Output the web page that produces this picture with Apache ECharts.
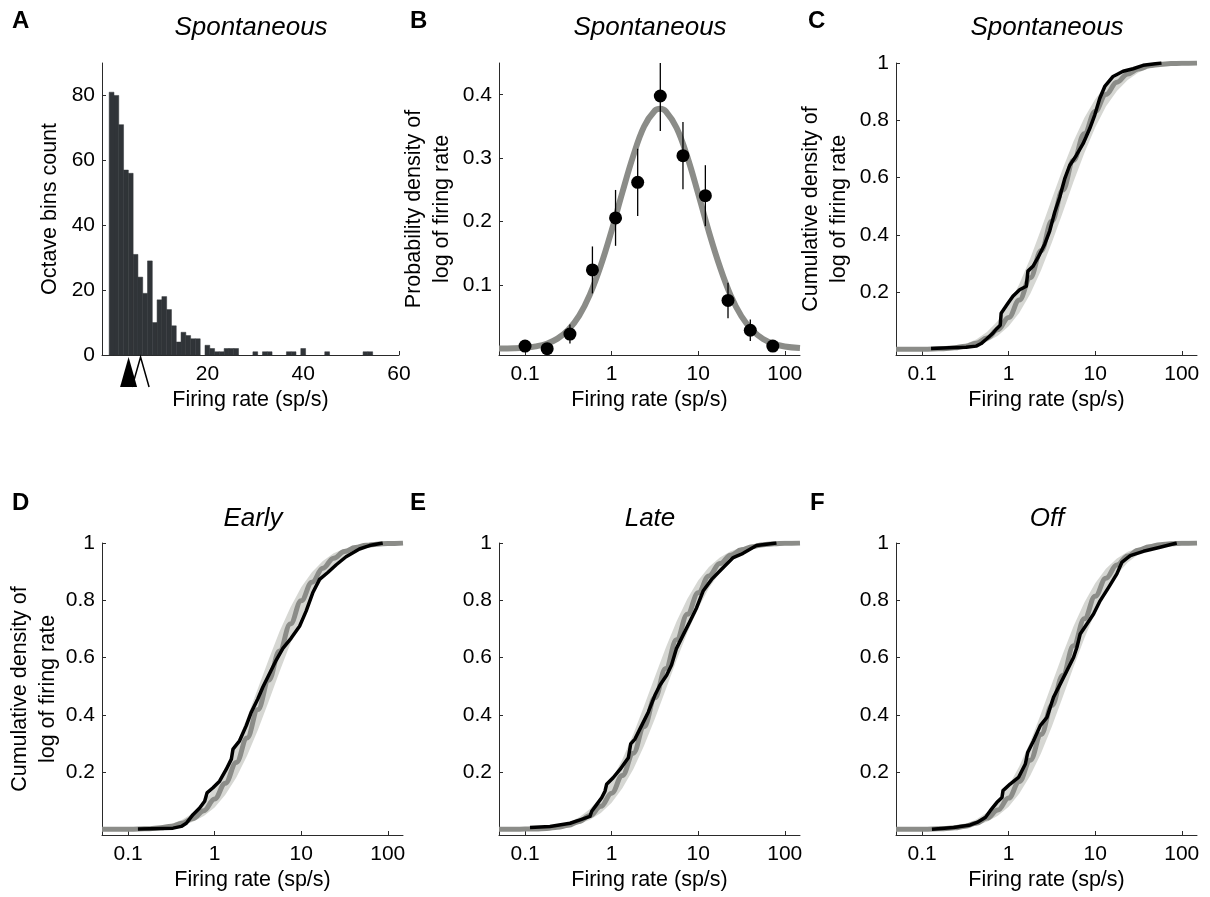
<!DOCTYPE html>
<html>
<head>
<meta charset="utf-8">
<script src="https://cdn.jsdelivr.net/npm/echarts@6/dist/echarts.min.js"></script>
<style>
  html, body { margin: 0; padding: 0; background: #fff; }
  #chart { width: 1210px; height: 897px; }
</style>
</head>
<body>
<div id="chart"></div>
<script>
// ---- A: histogram of spontaneous firing rates (1 sp/s bins, centred on integers)
const histCounts = [81, 80, 71, 57, 56, 31, 24, 19, 29, 10,
                    17, 18, 14, 9, 4, 7, 6, 5, 5, 0,
                    3, 2, 1, 1, 2, 2, 2, 0, 0, 0,
                    1, 0, 1, 1, 0, 0, 0, 1, 1, 0,
                    2, 0, 0, 0, 0, 1, 0, 0, 0, 0,
                    0, 0, 0, 1, 1];
const medianRate = 3.55;   // filled marker
const meanRate = 6.05;     // open marker
const histXTicks = [20, 40, 60];
const histYTicks = [0, 20, 40, 60, 80];

// ---- B: density of log firing rate, binned points with error bars and fitted curve
const densityRates  = [0.1, 0.18, 0.33, 0.6, 1.11, 2.0, 3.65, 6.67, 12.1, 22.1, 40, 72.8];
const densityValues = [0.004, 0.0, 0.023, 0.124, 0.206, 0.262, 0.398, 0.304, 0.241, 0.076, 0.029, 0.004];
const densityErrors = [0.004, 0.0, 0.015, 0.037, 0.044, 0.053, 0.055, 0.053, 0.048, 0.028, 0.017, 0.004];

const densityFitRates = [0.05, 0.075, 0.1, 0.133, 0.178, 0.237, 0.316, 0.422, 0.562, 0.75,
                         1, 1.33, 1.78, 2.37, 3.16, 3.65, 4.22, 5.62, 7.5, 10, 13.3,
                         17.8, 23.7, 31.6, 42.2, 56.2, 75, 100, 150];
const densityFit = [0.0002, 0.0006, 0.0015, 0.0036, 0.0078, 0.0158, 0.0297, 0.052, 0.0856, 0.131,
                    0.186, 0.246, 0.304, 0.35, 0.375, 0.378, 0.374, 0.348, 0.302, 0.244, 0.184,
                    0.129, 0.084, 0.051, 0.029, 0.0153, 0.0075, 0.0035, 0.001];

// ---- C-F: cumulative densities (fit, fit band, empirical)
const fitRates = [0.05, 0.075, 0.1, 0.133, 0.178, 0.237, 0.316, 0.422, 0.562, 0.75,
                  1, 1.33, 1.78, 2.37, 3.16, 4.22, 5.62, 7.5, 10, 13.3,
                  17.8, 23.7, 31.6, 42.2, 56.2, 75, 100, 150];

const cdfFitSpont = [0, 0, 0, 0.001, 0.002, 0.005, 0.011, 0.021, 0.039, 0.068, 0.111, 0.172, 0.25, 0.344, 0.448, 0.556, 0.66, 0.753, 0.831, 0.89, 0.933, 0.962, 0.979, 0.99, 0.995, 0.998, 0.999, 1];
const cdfHiSpont  = [0, 0, 0.001, 0.002, 0.004, 0.009, 0.018, 0.034, 0.06, 0.099, 0.155, 0.228, 0.318, 0.419, 0.526, 0.631, 0.727, 0.809, 0.873, 0.921, 0.954, 0.974, 0.987, 0.994, 0.997, 0.999, 1, 1];
const cdfLoSpont  = [0, 0, 0, 0, 0.001, 0.003, 0.007, 0.014, 0.026, 0.047, 0.08, 0.128, 0.194, 0.276, 0.373, 0.478, 0.585, 0.686, 0.775, 0.848, 0.902, 0.941, 0.967, 0.982, 0.991, 0.996, 0.998, 1];
const ecdfSpontRates  = [0.127, 0.207, 0.323, 0.422, 0.482, 0.551, 0.658, 0.718, 0.8, 0.82, 0.982, 1.12, 1.34, 1.6, 1.67, 1.91, 2.18, 2.61, 2.98, 3.4, 3.89, 4.44, 5.07, 6.05, 7.24, 8.65, 9.88, 11.3, 12.9, 16.1, 21, 27.4, 35.8, 58.3];
const ecdfSpontValues = [0.003, 0.005, 0.007, 0.011, 0.02, 0.035, 0.056, 0.07, 0.084, 0.126, 0.161, 0.185, 0.208, 0.22, 0.273, 0.29, 0.32, 0.367, 0.413, 0.478, 0.531, 0.595, 0.642, 0.677, 0.718, 0.771, 0.818, 0.877, 0.918, 0.953, 0.971, 0.98, 0.992, 1.0];

const cdfFitEarly = [0, 0, 0, 0.001, 0.002, 0.005, 0.011, 0.021, 0.038, 0.065, 0.106, 0.161, 0.233, 0.319, 0.418, 0.521, 0.623, 0.717, 0.798, 0.863, 0.912, 0.947, 0.97, 0.984, 0.992, 0.996, 0.998, 1];
const cdfHiEarly  = [0, 0, 0.001, 0.002, 0.004, 0.009, 0.018, 0.033, 0.057, 0.095, 0.146, 0.213, 0.295, 0.39, 0.492, 0.594, 0.691, 0.775, 0.845, 0.898, 0.937, 0.964, 0.98, 0.99, 0.995, 0.997, 0.999, 1];
const cdfLoEarly  = [0, 0, 0, 0, 0.001, 0.003, 0.007, 0.014, 0.026, 0.046, 0.076, 0.121, 0.181, 0.257, 0.347, 0.447, 0.55, 0.649, 0.74, 0.816, 0.877, 0.922, 0.953, 0.974, 0.986, 0.993, 0.997, 0.999];
const ecdfEarlyRates  = [0.13, 0.331, 0.412, 0.471, 0.562, 0.671, 0.767, 0.8, 0.817, 0.957, 1.14, 1.36, 1.56, 1.63, 1.94, 2.32, 2.65, 3.16, 3.61, 4.12, 5.15, 6.14, 7.67, 9.57, 11.4, 13.6, 16.3, 20.3, 25.4, 33, 47.1, 61.4, 87.5];
const ecdfEarlyValues = [0.001, 0.004, 0.01, 0.021, 0.051, 0.074, 0.098, 0.1, 0.127, 0.145, 0.168, 0.209, 0.245, 0.28, 0.309, 0.362, 0.409, 0.456, 0.497, 0.532, 0.591, 0.632, 0.668, 0.709, 0.762, 0.826, 0.873, 0.897, 0.924, 0.952, 0.979, 0.991, 1.0];

const cdfFitLate = [0, 0, 0.001, 0.001, 0.003, 0.007, 0.014, 0.027, 0.048, 0.08, 0.126, 0.188, 0.266, 0.358, 0.459, 0.562, 0.662, 0.751, 0.826, 0.885, 0.928, 0.957, 0.976, 0.987, 0.994, 0.997, 0.999, 1];
const cdfHiLate  = [0, 0.001, 0.001, 0.002, 0.006, 0.012, 0.023, 0.042, 0.071, 0.113, 0.171, 0.244, 0.332, 0.431, 0.533, 0.634, 0.726, 0.805, 0.869, 0.916, 0.949, 0.971, 0.984, 0.992, 0.996, 0.998, 1, 1];
const cdfLoLate  = [0, 0, 0, 0.001, 0.002, 0.004, 0.009, 0.018, 0.033, 0.057, 0.093, 0.143, 0.21, 0.292, 0.386, 0.488, 0.59, 0.687, 0.772, 0.843, 0.897, 0.936, 0.962, 0.979, 0.989, 0.995, 0.998, 0.999];
const ecdfLateRates  = [0.114, 0.194, 0.331, 0.432, 0.562, 0.589, 0.671, 0.767, 0.838, 0.875, 1.04, 1.25, 1.56, 1.66, 1.86, 2.22, 2.65, 3.16, 3.61, 4.32, 4.92, 5.62, 6.71, 8.02, 9.57, 11.4, 14.3, 18.6, 25.4, 33, 47.1, 80.2];
const ecdfLateValues = [0.006, 0.01, 0.021, 0.033, 0.045, 0.063, 0.086, 0.11, 0.133, 0.157, 0.18, 0.209, 0.25, 0.298, 0.315, 0.362, 0.409, 0.468, 0.503, 0.538, 0.574, 0.632, 0.679, 0.726, 0.773, 0.832, 0.873, 0.908, 0.949, 0.964, 0.991, 1.0];

const cdfFitOff = [0, 0, 0, 0.001, 0.002, 0.005, 0.011, 0.021, 0.039, 0.067, 0.109, 0.167, 0.241, 0.331, 0.432, 0.538, 0.641, 0.735, 0.814, 0.877, 0.923, 0.955, 0.975, 0.987, 0.994, 0.997, 0.999, 1];
const cdfHiOff  = [0, 0, 0.001, 0.002, 0.004, 0.009, 0.018, 0.034, 0.059, 0.097, 0.151, 0.22, 0.306, 0.404, 0.508, 0.612, 0.709, 0.792, 0.859, 0.91, 0.946, 0.969, 0.984, 0.992, 0.996, 0.998, 1, 1];
const cdfLoOff  = [0, 0, 0, 0, 0.001, 0.003, 0.007, 0.014, 0.026, 0.047, 0.079, 0.125, 0.188, 0.266, 0.359, 0.462, 0.567, 0.667, 0.757, 0.832, 0.89, 0.932, 0.961, 0.978, 0.989, 0.995, 0.998, 1];
const ecdfOffRates  = [0.13, 0.232, 0.361, 0.432, 0.538, 0.614, 0.733, 0.838, 0.861, 1.04, 1.3, 1.56, 1.66, 1.94, 2.32, 2.77, 3.3, 3.94, 4.71, 5.62, 6.14, 6.71, 8.02, 9.57, 11.4, 14.3, 17.8, 20.3, 25.4, 36.1, 56.2, 87.5];
const ecdfOffValues = [0.0, 0.006, 0.015, 0.024, 0.041, 0.065, 0.094, 0.111, 0.135, 0.158, 0.181, 0.228, 0.268, 0.309, 0.362, 0.391, 0.461, 0.507, 0.554, 0.6, 0.635, 0.682, 0.717, 0.752, 0.798, 0.845, 0.892, 0.932, 0.956, 0.971, 0.985, 1.0];

// ---- shared axis settings
const rateMin = 0.05, rateMax = 150;
const logTickRates = [0.1, 1, 10, 100];
const logTickLabels = ['0.1', '1', '10', '100'];
const cdfTicks = [0.2, 0.4, 0.6, 0.8, 1];
const densityTicks = [0.1, 0.2, 0.3, 0.4];

const FONT = '"Liberation Sans", Arial, Helvetica, sans-serif';
const AXIS_COLOR = '#2a2a2a';
const FIT_GREY = '#8b8c88';
const BAND_GREY = '#d6d7d3';
const BAR_COLOR = '#303438';

const lg = v => Math.log10(v);
const pairs = (xs, ys) => xs.map((x, i) => [lg(x), ys[i]]);

const labelStyle = { color: '#000', fontSize: 21, fontFamily: FONT };
const nameStyle = { color: '#000', fontSize: 21.5, fontFamily: FONT, lineHeight: 28 };
const X_NAME_GAP = 22;

function baseAxis(gridIndex) {
  return {
    type: 'value',
    gridIndex,
    axisLine: { show: true, onZero: false, lineStyle: { color: AXIS_COLOR, width: 1 } },
    axisTick: { show: true, inside: true, length: 4, lineStyle: { color: AXIS_COLOR, width: 1 } },
    splitLine: { show: false }
  };
}

function logXAxis(gridIndex) {
  const ticks = logTickRates.map(lg);
  const a = baseAxis(gridIndex);
  return Object.assign(a, {
    min: lg(rateMin), max: lg(rateMax),
    name: 'Firing rate (sp/s)', nameLocation: 'middle', nameGap: X_NAME_GAP, nameTextStyle: nameStyle,
    axisTick: Object.assign(a.axisTick, { customValues: ticks }),
    axisLabel: Object.assign({}, labelStyle, {
      customValues: ticks, margin: 9,
      formatter: v => {
        const i = ticks.findIndex(t => Math.abs(t - v) < 1e-6);
        return i >= 0 ? logTickLabels[i] : '';
      }
    })
  });
}

function fracYAxis(gridIndex, min, max, ticks, name, nameGap) {
  const a = baseAxis(gridIndex);
  const o = Object.assign(a, {
    min, max,
    axisTick: Object.assign(a.axisTick, { customValues: ticks }),
    axisLabel: Object.assign({}, labelStyle, {
      customValues: ticks, margin: 7,
      formatter: v => String(+Number(v).toFixed(1))
    })
  });
  if (name) {
    Object.assign(o, { name, nameLocation: 'middle', nameRotate: 90, nameGap, nameTextStyle: nameStyle });
  }
  return o;
}

const grids = [
  { left: 102, top: 63, width: 297, height: 292 },
  { left: 499, top: 63, width: 301, height: 292 },
  { left: 896, top: 63, width: 301, height: 292 },
  { left: 102, top: 543, width: 301, height: 292 },
  { left: 499, top: 543, width: 301, height: 292 },
  { left: 896, top: 543, width: 301, height: 292 }
].map(g => Object.assign(g, { containLabel: false, outerBoundsMode: 'none' }));

// Histogram axes (grid 0)
const histX = Object.assign(baseAxis(0), {
  min: -2, max: 60,
  name: 'Firing rate (sp/s)', nameLocation: 'middle', nameGap: X_NAME_GAP, nameTextStyle: nameStyle,
  axisLabel: Object.assign({}, labelStyle, { customValues: histXTicks, margin: 9 })
});
histX.axisTick.customValues = histXTicks;
const histY = Object.assign(baseAxis(0), {
  min: 0, max: 90,
  name: 'Octave bins count', nameLocation: 'middle', nameRotate: 90, nameGap: 38, nameTextStyle: nameStyle,
  axisLabel: Object.assign({}, labelStyle, { customValues: histYTicks, margin: 7 })
});
histY.axisTick.customValues = histYTicks;

const cdfName = 'Cumulative density of\nlog of firing rate';
const xAxes = [histX, logXAxis(1), logXAxis(2), logXAxis(3), logXAxis(4), logXAxis(5)];
const yAxes = [
  histY,
  fracYAxis(1, -0.01, 0.45, densityTicks, 'Probability density of\nlog of firing rate', 43),
  fracYAxis(2, -0.02, 1, cdfTicks, cdfName, 43),
  fracYAxis(3, -0.02, 1, cdfTicks, cdfName, 40),
  fracYAxis(4, -0.02, 1, cdfTicks),
  fracYAxis(5, -0.02, 1, cdfTicks)
];

// ---- series builders
function cdfSeries(idx, fit, hi, lo, eRates, eValues) {
  return [
    {
      type: 'custom', xAxisIndex: idx, yAxisIndex: idx, z: 1, clip: true,
      data: [[0, 0]],
      renderItem: (params, api) => {
        const pts = [];
        fitRates.forEach((r, i) => pts.push(api.coord([lg(r), hi[i]])));
        for (let i = fitRates.length - 1; i >= 0; i--) pts.push(api.coord([lg(fitRates[i]), lo[i]]));
        return { type: 'polygon', shape: { points: pts }, style: { fill: BAND_GREY } };
      },
      silent: true
    },
    {
      type: 'line', xAxisIndex: idx, yAxisIndex: idx, z: 2,
      data: pairs(fitRates, fit), showSymbol: false, smooth: 0.4, smoothMonotone: 'x',
      lineStyle: { color: FIT_GREY, width: 5 }, silent: true
    },
    {
      type: 'line', xAxisIndex: idx, yAxisIndex: idx, z: 3,
      data: pairs(eRates, eValues), showSymbol: false,
      lineStyle: { color: '#000', width: 3.5, join: 'round' }, silent: true
    }
  ];
}

const series = [
  // A: histogram bars
  {
    type: 'custom', xAxisIndex: 0, yAxisIndex: 0, z: 2,
    data: histCounts.map((c, i) => [i, c]),
    renderItem: (params, api) => {
      const x = api.value(0), c = api.value(1);
      if (!c) return null;
      const p0 = api.coord([x - 0.5, c]);
      const p1 = api.coord([x + 0.5, 0]);
      return {
        type: 'rect',
        shape: { x: p0[0], y: p0[1], width: p1[0] - p0[0], height: p1[1] - p0[1] },
        style: { fill: BAR_COLOR, stroke: BAR_COLOR, lineWidth: 0.5 }
      };
    },
    silent: true
  },
  // A: median (filled) and mean (open) markers under the axis
  {
    type: 'custom', xAxisIndex: 0, yAxisIndex: 0, z: 3, clip: false,
    data: [[medianRate, 0]],
    renderItem: (params, api) => {
      const p = api.coord([api.value(0), 0]);
      return { type: 'polygon', shape: { points: [[p[0], p[1] + 2], [p[0] - 8.5, p[1] + 32], [p[0] + 8.5, p[1] + 32]] }, style: { fill: '#000' } };
    },
    silent: true
  },
  {
    type: 'custom', xAxisIndex: 0, yAxisIndex: 0, z: 3, clip: false,
    data: [[meanRate, 0]],
    renderItem: (params, api) => {
      const p = api.coord([api.value(0), 0]);
      return { type: 'polyline', shape: { points: [[p[0] - 8.5, p[1] + 32], [p[0], p[1] + 2], [p[0] + 8.5, p[1] + 32]] }, style: { stroke: '#000', lineWidth: 1.5, fill: null } };
    },
    silent: true
  },
  // B: fitted density
  {
    type: 'line', xAxisIndex: 1, yAxisIndex: 1, z: 2,
    data: pairs(densityFitRates, densityFit), showSymbol: false, smooth: 0.4,
    lineStyle: { color: FIT_GREY, width: 6 }, silent: true
  },
  // B: error bars
  {
    type: 'custom', xAxisIndex: 1, yAxisIndex: 1, z: 3, clip: true,
    data: densityRates.map((r, i) => [lg(r), densityValues[i], densityErrors[i]]),
    encode: { x: 0, y: 1 },
    renderItem: (params, api) => {
      const x = api.value(0), y = api.value(1), e = api.value(2);
      if (!e) return null;
      const a = api.coord([x, y - e]);
      const b = api.coord([x, y + e]);
      return { type: 'line', shape: { x1: a[0], y1: a[1], x2: b[0], y2: b[1] }, style: { stroke: '#000', lineWidth: 1.3 } };
    },
    silent: true
  },
  // B: binned points
  {
    type: 'scatter', xAxisIndex: 1, yAxisIndex: 1, z: 4,
    data: pairs(densityRates, densityValues),
    symbol: 'circle', symbolSize: 13, itemStyle: { color: '#000', opacity: 1 }, silent: true
  },
  ...cdfSeries(2, cdfFitSpont, cdfHiSpont, cdfLoSpont, ecdfSpontRates, ecdfSpontValues),
  ...cdfSeries(3, cdfFitEarly, cdfHiEarly, cdfLoEarly, ecdfEarlyRates, ecdfEarlyValues),
  ...cdfSeries(4, cdfFitLate, cdfHiLate, cdfLoLate, ecdfLateRates, ecdfLateValues),
  ...cdfSeries(5, cdfFitOff, cdfHiOff, cdfLoOff, ecdfOffRates, ecdfOffValues)
];

// Panel letters and condition titles
const letterStyle = { color: '#000', fontSize: 24, fontWeight: 'bold', fontFamily: FONT };
const headStyle = { color: '#000', fontSize: 26, fontStyle: 'italic', fontWeight: 'normal', fontFamily: FONT };
const titles = [
  { text: 'A', left: 12, top: 9, textStyle: letterStyle },
  { text: 'B', left: 410, top: 9, textStyle: letterStyle },
  { text: 'C', left: 808, top: 9, textStyle: letterStyle },
  { text: 'D', left: 12, top: 491, textStyle: letterStyle },
  { text: 'E', left: 410, top: 491, textStyle: letterStyle },
  { text: 'F', left: 810, top: 491, textStyle: letterStyle },
  { text: 'Spontaneous', left: 251, top: 15, textAlign: 'center', textStyle: headStyle },
  { text: 'Spontaneous', left: 650, top: 15, textAlign: 'center', textStyle: headStyle },
  { text: 'Spontaneous', left: 1047, top: 15, textAlign: 'center', textStyle: headStyle },
  { text: 'Early', left: 253, top: 506, textAlign: 'center', textStyle: headStyle },
  { text: 'Late', left: 650, top: 506, textAlign: 'center', textStyle: headStyle },
  { text: 'Off', left: 1047, top: 506, textAlign: 'center', textStyle: headStyle }
].map(t => Object.assign(t, { padding: 0 }));

const chart = echarts.init(document.getElementById('chart'), null, { renderer: 'canvas' });
chart.setOption({
  backgroundColor: '#fff',
  animation: false,
  textStyle: { fontFamily: FONT },
  title: titles,
  grid: grids,
  xAxis: xAxes,
  yAxis: yAxes,
  series
});
</script>
</body>
</html>
